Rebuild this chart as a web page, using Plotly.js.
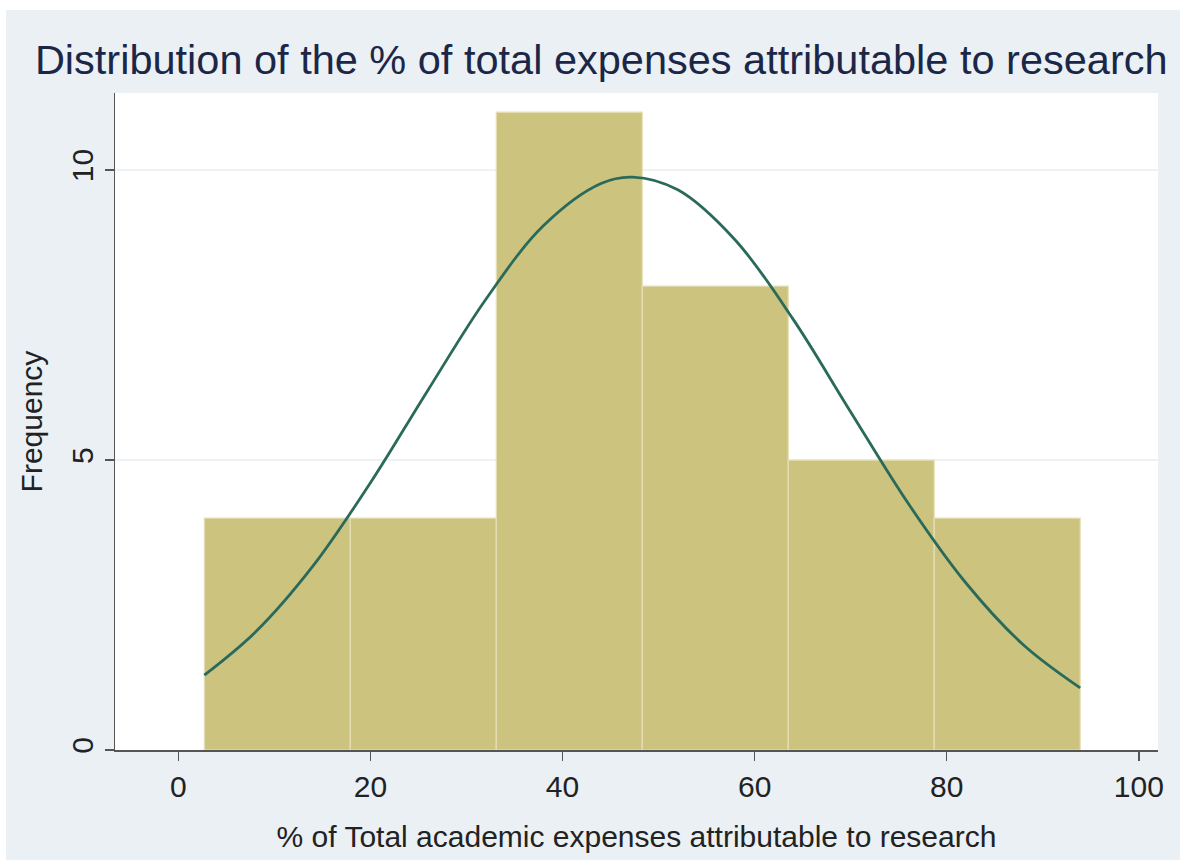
<!DOCTYPE html>
<html>
<head>
<meta charset="utf-8">
<script src="https://cdn.plot.ly/plotly-3.0.1.min.js"></script>
<style>
  html, body { margin: 0; padding: 0; background: #ffffff; }
  #chart { position: absolute; left: 6px; top: 10px; width: 1174px; height: 850px; }
</style>
</head>
<body>
<div id="chart"></div>
<script>
// Histogram bins
const binStart = 2.7;
const binWidth = 15.2;
const binCenters = [10.3, 25.5, 40.7, 55.9, 71.1, 86.3];
const frequencies = [4, 4, 11, 8, 5, 4];

// Normal density overlay
const curveX = [2.7, 8, 14, 20, 26, 32, 38, 44, 47.3, 52, 58, 64, 70, 76, 82, 88, 93.9];
const curveY = [1.29, 2.03, 3.17, 4.61, 6.21, 7.77, 9.04, 9.77, 9.88, 9.66, 8.79, 7.43, 5.83, 4.25, 2.88, 1.81, 1.07];

// Axis ticks
const xTicks = [0, 20, 40, 60, 80, 100];
const yTicks = [0, 5, 10];

const font = "Liberation Sans, Arial, Helvetica, sans-serif";

const traces = [
  {
    type: 'bar',
    x: binCenters,
    y: frequencies,
    width: binCenters.map(() => binWidth),
    marker: { color: '#cbc37e', line: { color: '#e6dfb6', width: 1.2 } },
    hoverinfo: 'x+y',
    showlegend: false
  },
  {
    type: 'scatter',
    mode: 'lines',
    x: curveX,
    y: curveY,
    line: { color: '#2a6a5a', width: 2.8, shape: 'spline', smoothing: 1 },
    showlegend: false
  }
];

const layout = {
  width: 1174,
  height: 850,
  paper_bgcolor: '#eaf0f3',
  plot_bgcolor: '#ffffff',
  margin: { l: 109, r: 22, t: 83, b: 110 },
  font: { family: font, color: '#222222' },
  title: {
    text: 'Distribution of the % of total expenses attributable to research',
    font: { family: font, size: 41.5, color: '#1c2748' },
    x: 0.507, xref: 'container', xanchor: 'center',
    y: 0.942, yref: 'container', yanchor: 'middle'
  },
  bargap: 0,
  xaxis: {
    range: [-6.6, 102],
    tickvals: xTicks,
    ticktext: xTicks.map(String),
    ticks: 'outside', ticklen: 9, tickwidth: 1.5, tickcolor: '#555555',
    showline: true, linecolor: '#555555', linewidth: 1.5,
    showgrid: false, zeroline: false,
    tickfont: { family: font, size: 30, color: '#222222' },
    title: { text: '% of Total academic expenses attributable to research', font: { family: font, size: 30, color: '#222222' }, standoff: 24 },
    automargin: false
  },
  yaxis: {
    range: [0, 11.33],
    tickvals: yTicks,
    ticktext: yTicks.map(String),
    tickangle: -90,
    ticks: 'outside', ticklen: 9, tickwidth: 1.5, tickcolor: '#555555',
    showline: true, linecolor: '#555555', linewidth: 1.5,
    showgrid: true, gridcolor: '#edf2f4', gridwidth: 1.5,
    zeroline: false,
    tickfont: { family: font, size: 30, color: '#222222' },
    title: { text: 'Frequency', font: { family: font, size: 30, color: '#222222' }, standoff: 14 },
    automargin: false
  }
};

Plotly.newPlot('chart', traces, layout, { displayModeBar: false, staticPlot: true });
</script>
</body>
</html>
